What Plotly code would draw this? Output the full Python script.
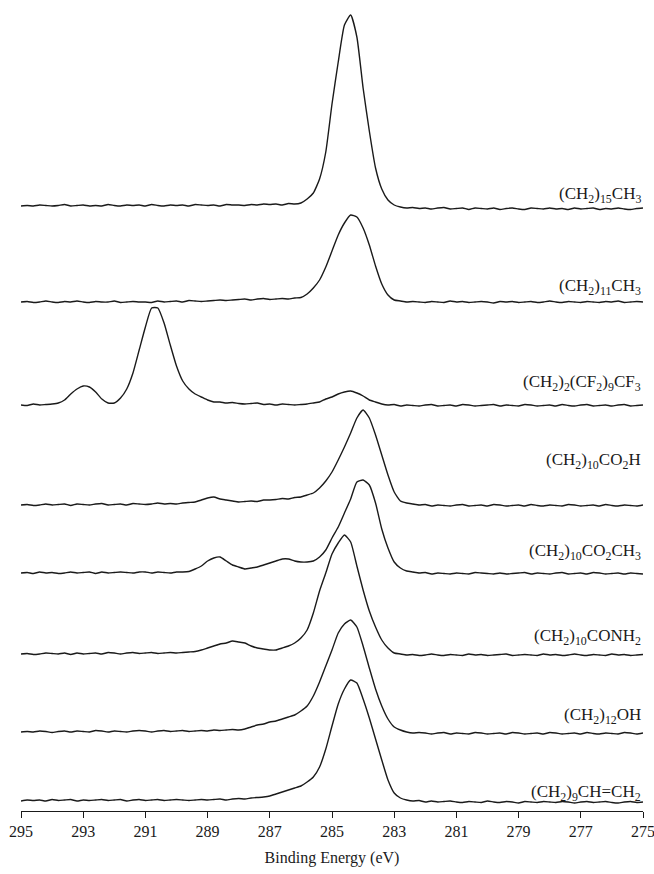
import plotly.graph_objects as go

# Binding-energy sampling grid (eV), 295 -> 275 in 0.2 eV steps
energy = [round(295.0 - 0.2 * i, 1) for i in range(101)]

# Sample names (HTML sub tags for the subscripts)
samples = [
    "(CH<sub>2</sub>)<sub>15</sub>CH<sub>3</sub>",
    "(CH<sub>2</sub>)<sub>11</sub>CH<sub>3</sub>",
    "(CH<sub>2</sub>)<sub>2</sub>(CF<sub>2</sub>)<sub>9</sub>CF<sub>3</sub>",
    "(CH<sub>2</sub>)<sub>10</sub>CO<sub>2</sub>H",
    "(CH<sub>2</sub>)<sub>10</sub>CO<sub>2</sub>CH<sub>3</sub>",
    "(CH<sub>2</sub>)<sub>10</sub>CONH<sub>2</sub>",
    "(CH<sub>2</sub>)<sub>12</sub>OH",
    "(CH<sub>2</sub>)<sub>9</sub>CH=CH<sub>2</sub>",
]

# C 1s intensities (arbitrary units), one value per grid point
c1s_ch2_15_ch3 = [
    1, 1.5, 1, 2, 1.5, 1, 1.5, 2.5, 1, 1.5, 2, 1, 1.5, 1, 2.5, 1.5, 1, 2, 1.5, 2,
    1, 2.5, 1.5, 1, 2, 1.5, 2, 1, 2.5, 2, 1.5, 2, 1, 2.5, 2, 2, 1.5, 2.5, 2, 3,
    2.5, 3, 2, 3.5, 3, 4, 8, 14, 28, 55, 103, 145, 182, 192, 170,
    119, 76, 39, 18, 7, 2, 0, -1, -0.5, -1.5, -1, -2, -1, -0.5, -2,
    -1.5, -1, -2.5, -1, -1.5, -2, -1, -2.5, -1.5, -1, -2, -2.5, -1, -1.5, -2,
    -1, -2, -1.5, -2.5, -1, -2, -1.5, -1, -2.5, -1.5, -2, -1, -2, -2.5, -1.5, -1,
]
c1s_ch2_11_ch3 = [
    -1, -0.5, -1.5, -1, 0, -1, -1.5, -0.5, -1, 0, -1, -1.5, -0.5, -1, -1, 0, -1.5, -1, -0.5, -1,
    -1, -1.5, 0, -1, -0.5, 0, -1, 0.5, 0, -0.5, 0, 0.5, 1, 0.5, 1, 1.5, 2, 1, 2, 2.5,
    1.5, 2, 2.5, 2, 3, 3.5, 7, 13, 21, 34, 50, 66, 78, 86, 84,
    73, 56, 35, 17, 6, 1, 0, -1, -0.5, -1, -1.5, -0.5, -1, -1.5, 0,
    -1, -0.5, -1.5, -1, -0.5, -1, -2, -0.5, -1, -0.5, -1.5, -1, -0.5, -1.5, -1,
    0, -1, -1.5, -0.5, -1, -1.5, -0.5, -1, -1.5, -0.5, -1, 0, -1.5, -1, -0.5, -1,
]
c1s_fluorinated = [
    0, -0.5, 1, 0, 0.5, 1, 2, 5, 11, 16, 19, 18, 13, 6, 2, 2, 7, 16, 32, 55,
    78, 97, 97, 82, 60, 39, 24, 16, 11, 8, 5, 3, 3, 2, 2.5, 1.5, 1, 1.5, 2, 0.5,
    1, 0, 1, 0.5, 0, 0.5, 1, 2, 3, 6, 8, 11, 13, 14, 12,
    9, 5, 3, 1, 0, 0.5, -1, 0, -0.5, -1, 0, 0.5, -1, -0.5, 0,
    -1, 0.5, 0, -1, -0.5, 0, 0.5, -1, 0, -0.5, -1, 0.5, 0, -1, -0.5,
    0, -1, 0.5, -0.5, -1, 0, 0.5, -1, -0.5, 0, -1, 0, 0.5, -1, -0.5, 0,
]
c1s_acid = [
    0, 0.5, -0.5, 0, 1, 0, 0.5, 1, -0.5, 1, 0.5, 0, 1, 1.5, 0, 0.5, 1, 0, 1.5, 1,
    0.5, 1, 2, 1, 1.5, 1, 2, 2.5, 3, 5, 7, 8, 6, 5, 4, 3, 3.5, 4, 3.5, 5,
    5, 5.5, 6.5, 6, 7.5, 8, 10, 12, 17, 24, 33, 45, 58, 72, 87,
    95, 87, 70, 50, 30, 13, 4, 2, 1, 0, 0.5, -1, 0, -0.5, -1,
    0, 0.5, -1, -0.5, 0, -1, 0.5, 0, -1, -0.5, 0, -1, 0.5, -0.5, -1,
    0, -0.5, -1, 0.5, 0, -1, -0.5, 0, -1, 0.5, -0.5, -1, 0, -0.5, -1, 0,
]
c1s_ester = [
    0, 0.5, -0.5, 1, 0, 0.5, -0.5, 0, 1, 0, 0.5, 1, -0.5, 1, 0, 0.5, 1, 0.5, 0, 1,
    1, 0, 1, 0.5, 0, 1, 1, 1.5, 4, 7, 12, 15, 16, 12, 8, 6, 4, 5, 6, 8,
    10, 12, 14, 14, 12, 11, 11, 12, 16, 23, 35, 46, 60, 74, 91,
    93, 88, 70, 44, 25, 11, 5, 2, 1, 0, 0.5, -1, 0, -0.5, -1,
    0, -0.5, -1, 0.5, 0, -0.5, -1, 0, -1, -0.5, 0, 0.5, -1, 0, -0.5,
    -1, 0, 0.5, -1, -0.5, 0, -1, 0.5, 0, -1, -0.5, 0, -1, 0, -0.5, -1,
]
c1s_amide = [
    0, 0.5, -0.5, 0, 1, 0.5, 0, 1, -0.5, 1, 0, 0.5, 1, 0, 1.5, 1, 0, 1, 1.5, 0.5,
    1, 1.5, 0.5, 1, 1.5, 1, 1.5, 2, 2.5, 4, 6, 8, 10, 11, 13, 12, 11, 8, 6, 5,
    4, 4, 6, 8, 11, 16, 24, 41, 63, 81, 100, 111, 119, 112, 88,
    64, 43, 27, 14, 6, 1, 0, -1, -0.5, -1.5, -1, 0, -1, -1.5, -0.5,
    -1, -1.5, 0, -1, -0.5, -1.5, -1, -0.5, 0, -1.5, -1, -0.5, -1, -1.5, 0,
    -1, -0.5, -1.5, -1, 0, -1, -1.5, -0.5, -1, -1.5, 0, -1, -0.5, -1.5, -1, -0.5,
]
c1s_alcohol = [
    1, 1.5, 1, 2, 1.5, 0.5, 1.5, 2, 1, 2, 1.5, 1, 2.5, 2, 1, 2, 1.5, 1, 2, 2.5,
    2, 1, 2, 2.5, 1.5, 2, 2.5, 1.5, 2, 2.5, 2, 3, 2.5, 3, 3.5, 3, 4, 6, 8, 9,
    11, 12, 14, 16, 18, 22, 27, 37, 51, 67, 83, 100, 109, 113, 106,
    87, 65, 44, 27, 14, 6, 3, 1, 0, 0.5, 0, -1, 0, 0.5, -1,
    0, -0.5, -1, 0.5, 0, -1, -0.5, 0, -1, 0.5, 0, -1, -0.5, 0, -1,
    0.5, 0, -1, -0.5, 0, -1, 0.5, -0.5, -1, 0, -0.5, -1, 0.5, 0, -1, 0,
]
c1s_alkene = [
    0, 1, 0.5, 1, 0, 1.5, 0.5, 1, 1.5, 0, 1, 0.5, 1, 1.5, 0.5, 1, 1.5, 0, 1, 1.5,
    0.5, 1, 1.5, 0.5, 1, 1.5, 1, 0.5, 1, 1.5, 1, 1.5, 2, 1, 2, 2.5, 2, 3, 3.5, 4,
    5, 7, 9, 11, 13, 15, 19, 24, 34, 52, 75, 97, 112, 121, 118,
    102, 83, 62, 41, 21, 8, 3, 1, 0, 0.5, -1, 0, -1, -0.5, 0,
    -1, -1.5, -0.5, -1, -1.5, 0, -1, -1.5, -0.5, -1, -2, -0.5, -1, -1.5, -0.5,
    -1, -1.5, -0.5, -1, -2, -1, -0.5, -1.5, -1, -0.5, -1.5, -2, -1, -0.5, -1.5, -1,
]

spectra = [
    c1s_ch2_15_ch3, c1s_ch2_11_ch3, c1s_fluorinated, c1s_acid,
    c1s_ester, c1s_amide, c1s_alcohol, c1s_alkene,
]

# Vertical stacking offsets and label heights above each baseline
offsets = [604, 510, 406, 306, 238, 157, 78, 10]
label_lift = [12, 14, 22, 44, 21, 17, 17, 8]

x_ticks = list(range(295, 274, -2))

serif = "Liberation Serif, Times New Roman, serif"

fig = go.Figure()
for name, values, off in zip(samples, spectra, offsets):
    fig.add_trace(go.Scatter(
        x=energy,
        y=[v + off for v in values],
        mode="lines",
        line=dict(color="#1a1a1a", width=1.4, shape="spline", smoothing=0.5),
        name=name,
        showlegend=False,
        hoverinfo="skip",
    ))

for name, off, lift in zip(samples, offsets, label_lift):
    fig.add_annotation(
        x=275, y=off + lift, xref="x", yref="y",
        text=name, showarrow=False,
        xanchor="right", yanchor="middle",
        font=dict(family=serif, size=17, color="#1a1a1a"),
    )

fig.update_layout(
    width=654, height=874,
    margin=dict(l=21, r=11, t=10, b=63),
    paper_bgcolor="white", plot_bgcolor="white",
    font=dict(family=serif, color="#1a1a1a"),
)
fig.update_xaxes(
    range=[295, 275],
    automargin=False,
    tickvals=x_ticks, ticktext=[str(t) for t in x_ticks],
    ticks="outside", ticklen=6, tickwidth=1, tickcolor="#1a1a1a",
    showline=True, linecolor="#1a1a1a", linewidth=1,
    showgrid=False, zeroline=False,
    tickfont=dict(family=serif, size=16),
    ticklabeloverflow="allow",
    title=dict(text="Binding Energy (eV)", font=dict(family=serif, size=16), standoff=12),
)
fig.update_yaxes(
    range=[0, 801], visible=False, showgrid=False, zeroline=False,
)

fig.write_html("out.html")
